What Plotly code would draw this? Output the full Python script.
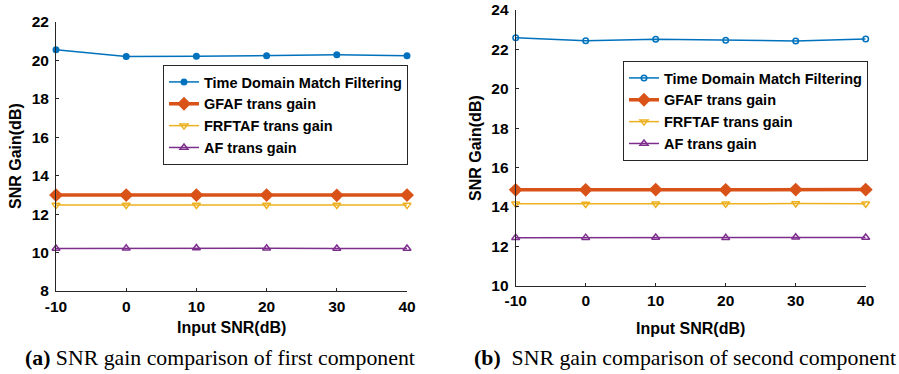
import plotly.graph_objects as go

x_snr = [-10, 0, 10, 20, 30, 40]
x_tick_labels = ["-10", "0", "10", "20", "30", "40"]

# Panel (a): first component
a_tdmf = [20.55, 20.21, 20.22, 20.24, 20.29, 20.25]
a_gfaf = [12.99, 12.99, 12.99, 12.99, 12.98, 12.99]
a_frftaf = [12.47, 12.48, 12.48, 12.48, 12.48, 12.47]
a_af = [10.21, 10.22, 10.24, 10.22, 10.21, 10.21]

# Panel (b): second component
b_tdmf = [22.59, 22.44, 22.51, 22.46, 22.43, 22.53]
b_gfaf = [14.87, 14.87, 14.88, 14.87, 14.88, 14.88]
b_frftaf = [14.16, 14.15, 14.16, 14.16, 14.17, 14.16]
b_af = [12.44, 12.44, 12.45, 12.43, 12.46, 12.45]

names = ["Time Domain Match Filtering", "GFAF trans gain", "FRFTAF trans gain", "AF trans gain"]
colors = ["#0072BD", "#D95319", "#EDB120", "#7E2F8E"]

W, H = 899, 374
FONT = "Liberation Sans, Arial, sans-serif"
SERIF = "Liberation Serif, Times New Roman, serif"

fig = go.Figure()

def add_panel(series, xa, ya, legend, circle_symbol):
    styles = [
        dict(symbol=circle_symbol, size=5.5, lw=1.5),
        dict(symbol="diamond", size=9, lw=3.5),
        dict(symbol="triangle-down-open", size=7, lw=1.5),
        dict(symbol="triangle-up-open", size=7, lw=1.5),
    ]
    for vals, name, col, st in zip(series, names, colors, styles):
        fig.add_trace(go.Scatter(
            x=x_snr, y=vals, name=name, mode="lines+markers",
            line=dict(color=col, width=st["lw"]),
            marker=dict(symbol=st["symbol"], size=st["size"], color=col,
                        line=dict(color=col, width=1.5)),
            xaxis=xa, yaxis=ya, legend=legend, cliponaxis=False,
        ))

add_panel([a_tdmf, a_gfaf, a_frftaf, a_af], "x", "y", "legend", "circle")
add_panel([b_tdmf, b_gfaf, b_frftaf, b_af], "x2", "y2", "legend2", "circle-open")

axis_common = dict(
    showline=True, linecolor="#262626", linewidth=1, mirror=False, automargin=False,
    ticks="inside", ticklen=3, tickcolor="#262626", showgrid=False, zeroline=False,
    tickfont=dict(family=FONT, size=15.5, color="#000000", weight="bold"),
)
xaxis_extra = dict(ticklabelstandoff=1)
yaxis_extra = dict(ticklabelstandoff=3)

lx0, lx1 = 56 / W, 407 / W
ly0, ly1 = 1 - 291 / H, 1 - 22 / H
rx0, rx1 = 515.7 / W, 865.7 / W
ry0, ry1 = 1 - 285.7 / H, 1 - 10 / H

legend_common = dict(xanchor="left", yanchor="top",
                     bgcolor="white", bordercolor="#262626", borderwidth=1,
                     font=dict(family=FONT, size=14.5, color="#000000", weight="bold"),
                     tracegroupgap=0, itemwidth=30)

fig.update_layout(
    template="none",
    width=W, height=H, margin=dict(l=0, r=0, t=0, b=0, autoexpand=False),
    paper_bgcolor="white", plot_bgcolor="white",
    xaxis=dict(domain=[lx0, lx1], range=[-10, 40], tickvals=x_snr, ticktext=x_tick_labels,
               anchor="y", **axis_common, **xaxis_extra),
    yaxis=dict(domain=[ly0, ly1], range=[8, 22], dtick=2, anchor="x", **axis_common, **yaxis_extra),
    xaxis2=dict(domain=[rx0, rx1], range=[-10, 40], tickvals=x_snr, ticktext=x_tick_labels,
                anchor="y2", **axis_common, **xaxis_extra),
    yaxis2=dict(domain=[ry0, ry1], range=[10, 24], dtick=2, anchor="x2", **axis_common, **yaxis_extra),
    legend=dict(x=163 / W, y=1 - 65 / H, **legend_common),
    legend2=dict(x=623 / W, y=1 - 61 / H, **legend_common),
    showlegend=True,
)

ann = []
title_font = dict(family=FONT, size=16, color="#000000", weight="bold")
ann.append(dict(text="Input SNR(dB)", x=231.5 / W, y=1 - 327 / H, xref="paper", yref="paper",
                showarrow=False, font=title_font, xanchor="center", yanchor="middle"))
ann.append(dict(text="Input SNR(dB)", x=690.7 / W, y=1 - 328.5 / H, xref="paper", yref="paper",
                showarrow=False, font=title_font, xanchor="center", yanchor="middle"))
ann.append(dict(text="SNR Gain(dB)", x=15 / W, y=1 - 156 / H, xref="paper", yref="paper",
                showarrow=False, font=title_font, textangle=-90, xanchor="center", yanchor="middle"))
ann.append(dict(text="SNR Gain(dB)", x=475 / W, y=1 - 148 / H, xref="paper", yref="paper",
                showarrow=False, font=title_font, textangle=-90, xanchor="center", yanchor="middle"))
cap_font = dict(family=SERIF, size=21.8, color="#000000")
ann.append(dict(text="<b>(a)</b> SNR gain comparison of first component", x=219.5 / W, y=1 - 358 / H,
                xref="paper", yref="paper", showarrow=False, font=cap_font,
                xanchor="center", yanchor="middle"))
ann.append(dict(text="<b>(b)</b>  SNR gain comparison of second component", x=685 / W, y=1 - 358 / H,
                xref="paper", yref="paper", showarrow=False, font=cap_font,
                xanchor="center", yanchor="middle"))
fig.update_layout(annotations=ann)

fig.write_html(
    "out.html",
    config={"displayModeBar": False},
    post_script="document.body.style.margin='0';document.documentElement.style.overflow='hidden';",
)
